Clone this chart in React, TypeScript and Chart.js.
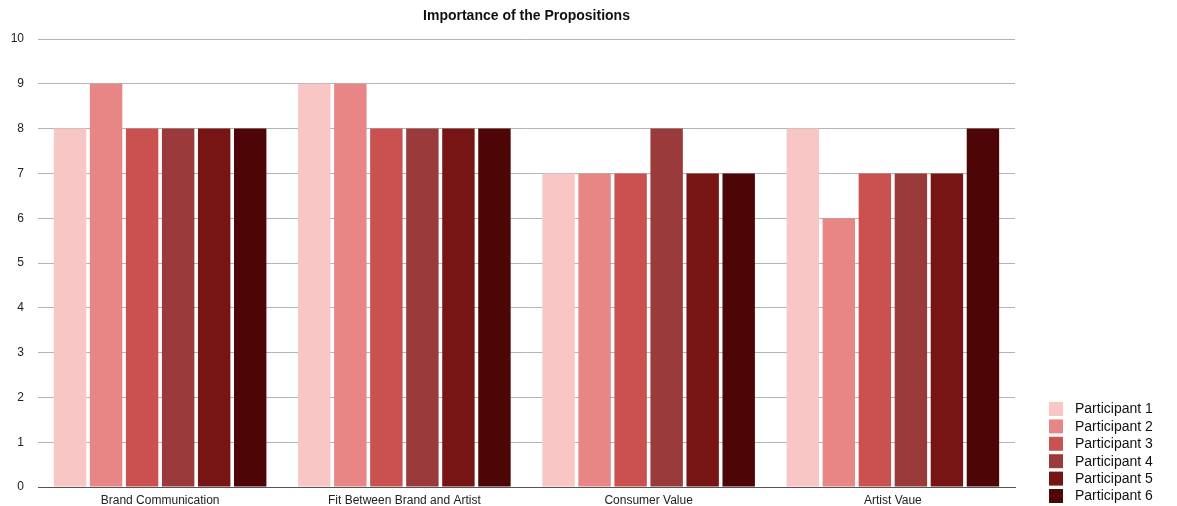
import React, { useEffect, useRef } from "react";
import { Chart, registerables } from "chart.js";

Chart.register(...registerables);

const categories = [
  "Brand Communication",
  "Fit Between Brand and Artist",
  "Consumer Value",
  "Artist Vaue",
];
const participantNames = [
  "Participant 1",
  "Participant 2",
  "Participant 3",
  "Participant 4",
  "Participant 5",
  "Participant 6",
];
const participant1 = [8, 9, 7, 8];
const participant2 = [9, 9, 7, 6];
const participant3 = [8, 8, 7, 7];
const participant4 = [8, 8, 8, 7];
const participant5 = [8, 8, 7, 7];
const participant6 = [8, 8, 7, 8];
const seriesValues = [participant1, participant2, participant3, participant4, participant5, participant6];
const seriesColors = ["#F9C6C6", "#E88585", "#CB5050", "#9A3A3A", "#771414", "#4E0505"];
const yTicks = [0, 1, 2, 3, 4, 5, 6, 7, 8, 9, 10];
const titleText = "Importance of the Propositions";

const FONT = "'Liberation Sans', Arial, Helvetica, sans-serif";

// Draws the chart title above the plot and the legend in the lower right corner.
const titleAndLegend = {
  id: "titleAndLegend",
  afterDraw(chart: Chart) {
    const { ctx, chartArea } = chart;
    ctx.save();
    ctx.fillStyle = "#111";
    ctx.font = `bold 14px ${FONT}`;
    ctx.textAlign = "center";
    ctx.textBaseline = "middle";
    ctx.fillText(titleText, (chartArea.left + chartArea.right) / 2, 16);

    ctx.font = `14px ${FONT}`;
    ctx.textAlign = "left";
    const boxX = 1049;
    const firstTop = 402;
    const step = 17.4;
    participantNames.forEach((name, i) => {
      const top = firstTop + i * step;
      ctx.fillStyle = seriesColors[i];
      ctx.fillRect(boxX, top, 14, 14);
      ctx.fillStyle = "#111";
      ctx.fillText(name, 1075, top + 7.5);
    });
    ctx.restore();
  },
};

export default function App() {
  const canvasRef = useRef<HTMLCanvasElement | null>(null);

  useEffect(() => {
    document.body.style.margin = "0";
    const canvas = canvasRef.current;
    if (!canvas) return;
    const chart = new Chart(canvas, {
      type: "bar",
      data: {
        labels: categories,
        datasets: participantNames.map((name, i) => ({
          label: name,
          data: seriesValues[i],
          backgroundColor: seriesColors[i],
          borderWidth: 0,
          barPercentage: 0.9,
          categoryPercentage: 0.885,
        })),
      },
      options: {
        responsive: false,
        animation: false,
        layout: { padding: { top: 39, right: 162, left: 0, bottom: 0 } },
        plugins: {
          legend: { display: false },
          title: { display: false },
          tooltip: { enabled: false },
        },
        scales: {
          x: {
            grid: { display: false, drawTicks: false },
            border: { display: true, color: "#555", width: 1 },
            ticks: { color: "#222", font: { family: FONT, size: 12 }, padding: 6 },
            afterFit: (s: any) => {
              s.height = 19;
            },
          },
          y: {
            min: 0,
            max: 10,
            afterBuildTicks: (s: any) => {
              s.ticks = yTicks.map((v) => ({ value: v }));
            },
            grid: { color: "#b4b4b4", lineWidth: 1, drawTicks: false },
            border: { display: false },
            ticks: { color: "#222", font: { family: FONT, size: 12 }, padding: 14 },
            afterFit: (s: any) => {
              s.width = 38;
              s.paddingTop = 0;
              s.paddingBottom = 0;
            },
          },
        },
      },
      plugins: [titleAndLegend],
    });
    return () => chart.destroy();
  }, []);

  return (
    <div style={{ width: 1177, height: 506 }}>
      <canvas ref={canvasRef} width={1177} height={506} style={{ display: "block" }} />
    </div>
  );
}
